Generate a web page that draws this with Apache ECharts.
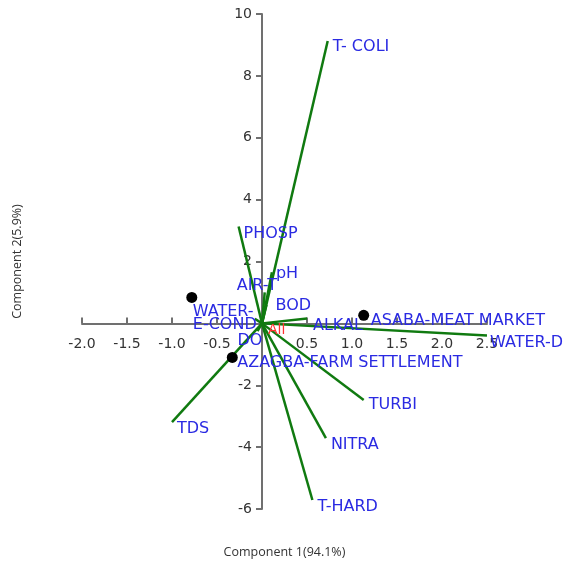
<!DOCTYPE html>
<html lang="en">
<head>
    <meta charset="UTF-8">
    <style>
    html, body { height: 100%; margin: 0; background: #fff; }
    </style>
</head>
<body>
<div id="chart" style="width:566px;height:569px;"></div>
<script src="https://cdn.jsdelivr.net/npm/echarts@6/dist/echarts.min.js"></script>
<script>
    // loading vectors (variables)
    var vectorNames = ['T- COLI', 'PHOSP', 'pH', 'AIR-T', 'BOD', 'E-COND', 'DO', 'ALKAL', 'WATER-D', 'TURBI', 'NITRA', 'T-HARD', 'TDS'];
    var vectorX = [0.73, -0.26, 0.11, 0.03, 0.05, -0.08, -0.05, 0.5, 2.5, 1.13, 0.71, 0.56, -1.0];
    var vectorY = [9.13, 3.13, 1.65, 1.0, 0.6, 0.15, -0.25, 0.16, -0.39, -2.48, -3.71, -5.71, -3.19];

    // sampling sites (scores)
    var siteNames = ['WATER-', 'ASABA-MEAT MARKET', 'AZAGBA-FARM SETTLEMENT'];
    var siteX = [-0.78, 1.13, -0.33];
    var siteY = [0.84, 0.26, -1.1];

    var groupName = 'All';

    // pixel offsets of the text from the end of each vector / site dot
    var vectorLabelOffset = [[5, 6], [5, 7], [4, 2], [-28, -7], [9, 1], [-62, 6], [-20, 10], [6, 7], [3, 7], [5, 5], [5, 7], [5, 7], [5, 7]];
    var siteLabelOffset = [[1, 14], [7, 6], [5, 5]];

    var blue = '#2a2ae2';
    var green = '#107a10';
    var font = 'DejaVu Sans';

    // grid and axis ranges; axes are shifted so they cross at (0, 0)
    var grid = { left: 82, right: 79, top: 14, bottom: 60 };
    var W = 566, H = 569;
    var xMin = -2, xMax = 2.5, yMin = -6, yMax = 10;
    var gw = W - grid.left - grid.right, gh = H - grid.top - grid.bottom;
    var x0 = grid.left + (0 - xMin) / (xMax - xMin) * gw;
    var y0 = grid.top + (yMax - 0) / (yMax - yMin) * gh;
    var xAxisOffset = -(H - grid.bottom - y0);
    var yAxisOffset = -(x0 - grid.left);

    var series = [];
    for (var i = 0; i < vectorNames.length; i++) {
        series.push({
            type: 'line',
            data: [[0, 0], [vectorX[i], vectorY[i]]],
            symbol: 'none',
            silent: true,
            lineStyle: { color: green, width: 2.5 },
            z: 3
        });
    }

    var vecLabels = [];
    for (var i = 0; i < vectorNames.length; i++) {
        vecLabels.push({
            name: vectorNames[i],
            value: [vectorX[i], vectorY[i]],
            label: { offset: vectorLabelOffset[i] }
        });
    }
    var siteData = [];
    for (var i = 0; i < siteNames.length; i++) {
        siteData.push({
            name: siteNames[i],
            value: [siteX[i], siteY[i]],
            label: { offset: siteLabelOffset[i] }
        });
    }

    var textLabel = {
        show: true, position: 'inside', align: 'left', verticalAlign: 'middle',
        formatter: '{b}', color: blue, fontFamily: font, fontSize: 16
    };

    series.push({
        type: 'scatter',
        data: siteData,
        symbolSize: 11,
        itemStyle: { color: '#000', opacity: 1 },
        z: 4,
        label: textLabel
    });
    series.push({
        type: 'scatter',
        data: vecLabels,
        symbolSize: 0,
        itemStyle: { opacity: 1 },
        z: 5,
        label: textLabel
    });
    series.push({
        type: 'scatter',
        data: [{ name: groupName, value: [0, 0] }],
        symbolSize: 0,
        itemStyle: { opacity: 1 },
        z: 5,
        label: {
            show: true, position: 'inside', align: 'left', verticalAlign: 'middle',
            offset: [6, 7], formatter: '{b}', color: '#ff3030', fontFamily: font, fontSize: 14
        }
    });

    var myChart = echarts.init(document.getElementById('chart'));
    myChart.setOption({
        animation: false,
        grid: { left: grid.left, right: grid.right, top: grid.top, bottom: grid.bottom, containLabel: false, outerBoundsMode: 'none' },
        xAxis: {
            type: 'value',
            min: xMin, max: xMax, interval: 0.5,
            offset: xAxisOffset,
            name: 'Component 1(94.1%)',
            nameLocation: 'middle',
            nameGap: 553 - y0 - 7,
            nameTextStyle: { color: '#333', fontFamily: 'Open Sans', fontSize: 12.5 },
            axisLine: { onZero: false, lineStyle: { color: '#707070', width: 2 } },
            axisTick: { inside: true, length: 6, lineStyle: { color: '#707070', width: 2 } },
            splitLine: { show: false },
            axisLabel: {
                color: '#333', fontFamily: font, fontSize: 14, margin: 14,
                formatter: function (v) { return v === 0 ? '' : v.toFixed(1); }
            }
        },
        yAxis: {
            type: 'value',
            min: yMin, max: yMax, interval: 2,
            offset: yAxisOffset,
            name: 'Component 2(5.9%)',
            nameLocation: 'middle',
            nameGap: x0 - 24,
            nameTextStyle: { color: '#333', fontFamily: 'Open Sans', fontSize: 12.5 },
            axisLine: { onZero: false, lineStyle: { color: '#707070', width: 2 } },
            axisTick: { length: 6, lineStyle: { color: '#707070', width: 2 } },
            splitLine: { show: false },
            axisLabel: {
                color: '#333', fontFamily: font, fontSize: 14, margin: 10,
                formatter: function (v) { return v === 0 ? '' : String(v); }
            }
        },
        series: series
    });
</script>
</body>
</html>
